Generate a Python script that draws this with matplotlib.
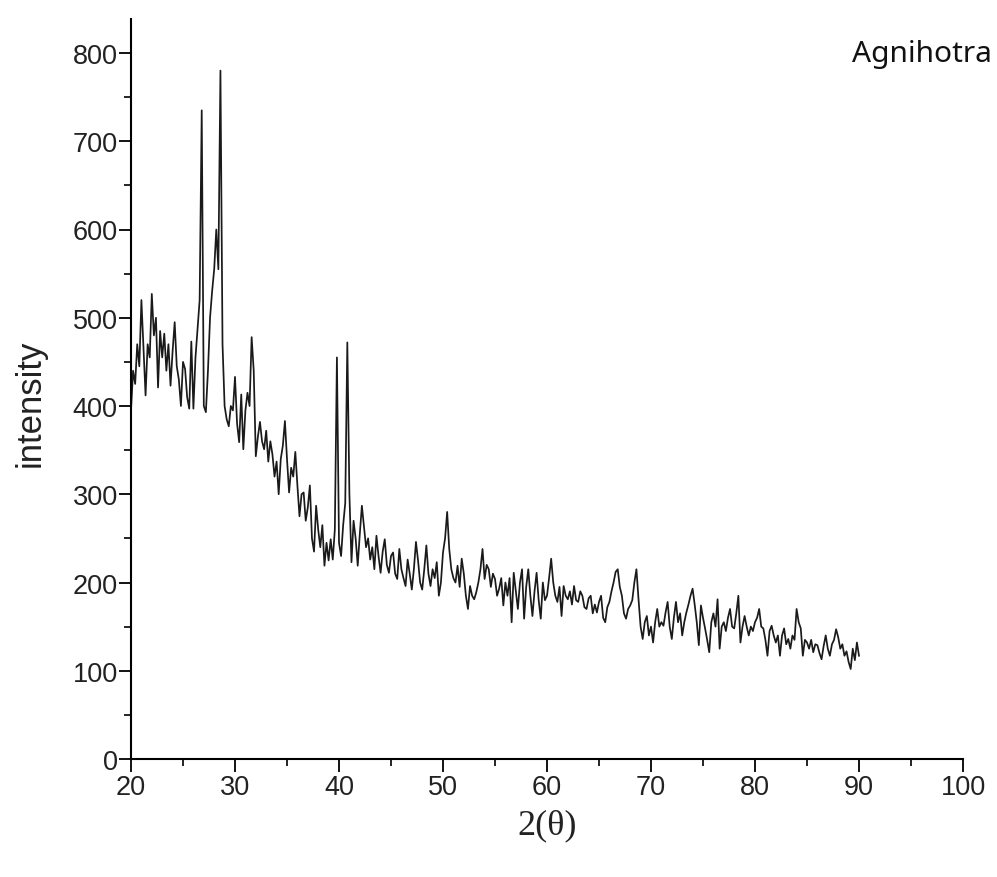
import numpy as np
import matplotlib
matplotlib.use("Agg")
import matplotlib.pyplot as plt
from matplotlib.ticker import MultipleLocator

# 2-theta grid (degrees), 0.2 deg step from 20 to 90
two_theta = np.round(np.arange(20.0, 90.001, 0.2), 1)

intensity = [
    395, 440, 425, 470, 445, 520, 465, 412, 470, 455,   # 20.0-21.8
    527, 480, 500, 421, 485, 455, 482, 440, 470, 423,   # 22.0-23.8
    462, 495, 445, 430, 400, 450, 442, 410, 397, 473,   # 24.0-25.8
    397, 455, 487, 520, 735, 400, 393, 440, 500, 530,   # 26.0-27.8
    555, 600, 555, 780, 470, 400, 385, 377, 400, 395,   # 28.0-29.8
    433, 380, 359, 413, 351, 395, 415, 400, 478, 440,   # 30.0-31.8
    343, 365, 382, 360, 351, 372, 337, 360, 345, 320,   # 32.0-33.8
    337, 300, 340, 355, 383, 340, 302, 330, 320, 348,   # 34.0-35.8
    310, 275, 300, 302, 270, 285, 310, 250, 235, 287,   # 36.0-37.8
    260, 240, 265, 219, 245, 225, 249, 226, 260, 455,   # 38.0-39.8
    245, 230, 265, 290, 472, 300, 223, 270, 250, 219,   # 40.0-41.8
    255, 287, 264, 240, 250, 226, 240, 215, 253, 230,   # 42.0-43.8
    211, 235, 249, 220, 211, 230, 234, 210, 204, 238,   # 44.0-45.8
    215, 205, 196, 226, 210, 192, 215, 246, 225, 200,   # 46.0-47.8
    192, 215, 242, 210, 196, 215, 205, 223, 185, 200,   # 48.0-49.8
    234, 250, 280, 238, 215, 205, 200, 219, 195, 227,   # 50.0-51.8
    210, 185, 170, 196, 185, 181, 189, 200, 215, 238,   # 52.0-53.8
    204, 220, 215, 195, 210, 204, 185, 193, 205, 174,   # 54.0-55.8
    200, 185, 205, 155, 211, 190, 170, 200, 215, 159,   # 56.0-57.8
    195, 215, 185, 162, 190, 211, 180, 159, 200, 180,   # 58.0-59.8
    185, 205, 227, 200, 185, 178, 195, 162, 196, 185,   # 60.0-61.8
    181, 190, 175, 196, 180, 178, 190, 185, 172, 170,   # 62.0-63.8
    182, 185, 165, 175, 166, 178, 185, 160, 155, 172,   # 64.0-65.8
    178, 190, 200, 212, 215, 195, 185, 165, 159, 170,   # 66.0-67.8
    174, 180, 200, 215, 181, 150, 136, 155, 162, 140,   # 68.0-69.8
    150, 132, 155, 170, 150, 155, 151, 166, 178, 150,   # 70.0-71.8
    136, 160, 178, 155, 165, 140, 155, 166, 175, 185,   # 72.0-73.8
    193, 175, 155, 129, 174, 160, 148, 135, 121, 155,   # 74.0-75.8
    165, 150, 181, 125, 150, 155, 145, 160, 170, 150,   # 76.0-77.8
    148, 165, 185, 132, 150, 162, 150, 140, 150, 145,   # 78.0-79.8
    155, 160, 170, 150, 148, 135, 117, 145, 151, 140,   # 80.0-81.8
    132, 140, 117, 140, 148, 130, 136, 125, 140, 135,   # 82.0-83.8
    170, 155, 148, 117, 135, 132, 125, 135, 121, 130,   # 84.0-85.8
    129, 120, 113, 128, 140, 125, 117, 130, 135, 147,   # 86.0-87.8
    138, 125, 130, 117, 122, 110, 102, 125, 112, 132,   # 88.0-89.8
    117,                                                # 90.0
]

x_major = [20, 30, 40, 50, 60, 70, 80, 90, 100]
y_major = [0, 100, 200, 300, 400, 500, 600, 700, 800]

fig = plt.figure(figsize=(9.97, 8.78), dpi=100)
ax = fig.add_axes([131/997, 1-760/878, (963-131)/997, (760-20)/878])

ax.plot(two_theta, intensity, color="#1a1a1a", linewidth=1.25)

ax.set_xlim(20, 100)
ax.set_ylim(0, 740/0.8825)
ax.set_xticks(x_major)
ax.set_yticks(y_major)
ax.xaxis.set_minor_locator(MultipleLocator(5))
ax.yaxis.set_minor_locator(MultipleLocator(50))

for s in ["top", "right"]:
    ax.spines[s].set_visible(False)
for s in ["left", "bottom"]:
    ax.spines[s].set_linewidth(1.5)

tick_font = "Liberation Sans"
ax.tick_params(which="major", direction="out", length=9, width=1.3,
               labelsize=19.5)
ax.tick_params(axis="y", which="major", pad=0.5)
ax.tick_params(axis="x", which="major", pad=2)
ax.tick_params(which="minor", direction="out", length=5, width=1.2)
for lbl in ax.get_xticklabels() + ax.get_yticklabels():
    lbl.set_fontfamily(tick_font)
    lbl.set_color("#222222")

ax.set_ylabel("intensity", fontsize=25, fontfamily="Liberation Sans",
              color="#222222")
ax.yaxis.set_label_coords(-(131-47)/832, (760-403)/740)
ax.set_xlabel("2(θ)", fontsize=26, fontfamily="Liberation Serif",
              color="#222222", labelpad=6)

fig.text(852/997, 1-62/878, "Agnihotra", fontsize=21.5,
         fontfamily="Noto Sans", ha="left", va="baseline", color="#111111")

fig.savefig("out.png", dpi=100)
